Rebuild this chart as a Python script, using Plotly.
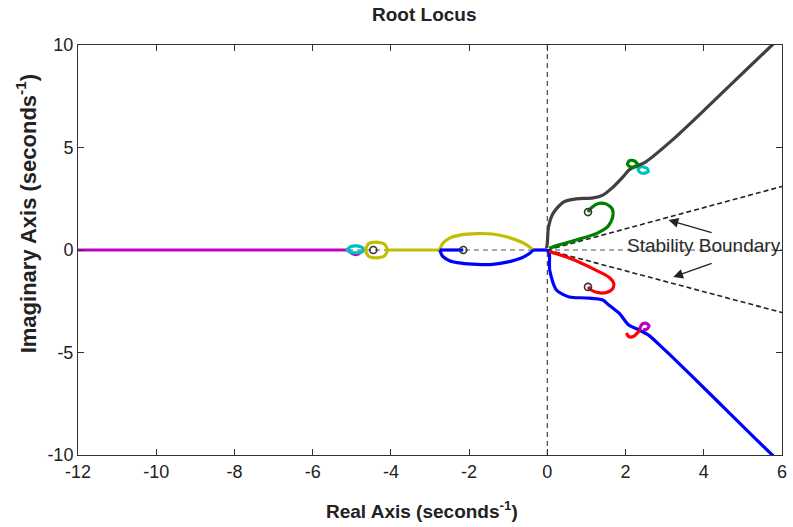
import plotly.graph_objects as go

# ---- root-locus branches: real / imaginary parts (seconds^-1); None splits segments ----
blue_re = [-2.15, -2.75, None,
           -2.75, -2.68, -2.5, -2.2, -1.8, -1.4, -1.0, -0.65, -0.45, -0.36, None,
           -0.36, 0.0, None,
           0.0, 0.05, 0.06, 0.23, 0.56, 0.99, 1.42, 1.57, 1.83, 2.08, 2.34, 2.59, 2.94, 3.27, 4.0, 5.75, 5.9]
blue_im = [0, 0, None,
           0, -0.3, -0.52, -0.64, -0.7, -0.7, -0.58, -0.38, -0.16, 0, None,
           0, 0, None,
           -0.02, -0.15, -0.98, -1.95, -2.29, -2.34, -2.44, -2.68, -3.07, -3.66, -3.9, -4.15, -4.76, -5.36, -6.72, -10.0, -10.25]

gray_re = [-0.02, 0.0, 0.03, 0.15, 0.41, 0.74, 1.17, 1.42, 1.68, 1.93, 2.1, 2.3, 2.51, 3.2, 4.0, 5.75, 5.9]
gray_im = [0.1, 0.34, 1.12, 1.8, 2.34, 2.49, 2.54, 2.68, 3.07, 3.56, 3.92, 4.1, 4.29, 5.37, 6.8, 10.0, 10.25]

yellow_re = [-4.65, -4.57, -4.37, -4.16, -4.09, -4.16, -4.37, -4.57, -4.65, None,
             -4.09, -2.75, None,
             -2.75, -2.68, -2.5, -2.2, -1.8, -1.4, -1.0, -0.65, -0.45, -0.36]
yellow_im = [0, 0.3, 0.38, 0.28, 0, -0.28, -0.38, -0.3, 0, None,
             0, 0, None,
             0, 0.3, 0.58, 0.74, 0.8, 0.78, 0.62, 0.38, 0.15, 0]

cyan_re = [-5.12, -5.02, -4.88, -4.72, -4.7, -4.82, -5.0, -5.12, None,
           2.32, 2.42, 2.55, 2.58, 2.47, 2.36, 2.32]
cyan_im = [0, 0.17, 0.2, 0.1, -0.03, -0.13, -0.12, 0, None,
           3.98, 4.06, 3.98, 3.82, 3.74, 3.8, 3.98]

magenta_re = [-12.0, -5.05, None,
              -5.08, -4.98, -4.85, -4.76, None,
              2.36, 2.42, 2.53, 2.6, 2.55, 2.45]
magenta_im = [0, 0, None,
              -0.02, -0.19, -0.21, -0.1, None,
              -3.85, -3.62, -3.57, -3.7, -3.85, -3.9]

green_re = [1.04, 1.12, 1.3, 1.5, 1.66, 1.67, 1.55, 1.25, 0.74, 0.3, 0.05, None,
            2.05, 2.1, 2.22, 2.3, 2.24, 2.12, 2.05]
green_im = [1.85, 2.05, 2.27, 2.25, 2.0, 1.6, 1.15, 0.8, 0.49, 0.25, 0.08, None,
            4.18, 4.36, 4.35, 4.2, 4.07, 4.06, 4.18]

red_re = [1.04, 1.12, 1.3, 1.5, 1.66, 1.7, 1.57, 1.24, 0.56, 0.05, None,
          2.02, 2.08, 2.2, 2.3, 2.38]
red_im = [-1.8, -1.95, -2.08, -2.08, -1.92, -1.65, -1.32, -0.98, -0.39, -0.08, None,
          -4.05, -4.22, -4.22, -4.05, -3.88]

# open-loop poles / zeros drawn as open circles
marker_re = [-2.15, 1.04, 1.04, -4.45]
marker_im = [0, 1.85, -1.8, 0]

# stability boundary rays from the origin
boundary_re = [0, 6]
boundary_upper_im = [0, 3.1]
boundary_lower_im = [0, -3.05]

# arrow heads and tails for the boundary label
arrow_head_re = [3.1, 3.22]
arrow_head_im = [1.46, -1.32]
arrow_tail_re = [4.24, 4.24]
arrow_tail_im = [0.83, -0.63]
label_re, label_im = 4.0, 0.24

x_ticks = [-12, -10, -8, -6, -4, -2, 0, 2, 4, 6]
x_tick_labels = ["-12", "-10", "-8", "-6", "-4", "-2", "0", "2", "4", "6"]
y_ticks = [-10, -5, 0, 5, 10]
y_tick_labels = ["-10", "-5", "0", "5", "10"]

FONT = "Liberation Sans, Arial, sans-serif"
TXT = "#222222"

fig = go.Figure()

# real and imaginary axes as dashed reference lines
fig.add_trace(go.Scatter(x=[-12, 6], y=[0, 0], mode="lines",
                         line=dict(color="#555555", width=1.2, dash="5px,4px"),
                         hoverinfo="skip"))
fig.add_trace(go.Scatter(x=[0, 0], y=[-10, 10], mode="lines",
                         line=dict(color="#444444", width=1.2, dash="5px,4px"),
                         hoverinfo="skip"))
for b_im in (boundary_upper_im, boundary_lower_im):
    fig.add_trace(go.Scatter(x=boundary_re, y=b_im, mode="lines",
                             line=dict(color="#222222", width=1.6, dash="5px,3px"),
                             hoverinfo="skip"))

branches = [
    (magenta_re, magenta_im, "#bf00bf"),
    (cyan_re, cyan_im, "#00bfbf"),
    (yellow_re, yellow_im, "#bfbf00"),
    (blue_re, blue_im, "#0000ff"),
    (gray_re, gray_im, "#404040"),
    (green_re, green_im, "#008000"),
    (red_re, red_im, "#ff0000"),
]
for bx, by, col in branches:
    fig.add_trace(go.Scatter(x=bx, y=by, mode="lines",
                             line=dict(color=col, width=3.2, shape="spline", smoothing=0.7),
                             connectgaps=False))

fig.add_trace(go.Scatter(x=marker_re, y=marker_im, mode="markers",
                         marker=dict(symbol="circle-open", size=7, color="#333333",
                                     line=dict(width=1.6))))

for hx, hy, tx, ty in zip(arrow_head_re, arrow_head_im, arrow_tail_re, arrow_tail_im):
    fig.add_annotation(x=hx, y=hy, ax=tx, ay=ty, xref="x", yref="y", axref="x", ayref="y",
                       showarrow=True, arrowhead=2, arrowsize=1.5, arrowwidth=1.3,
                       arrowcolor="#222222", text="")

fig.add_annotation(x=label_re, y=label_im, xref="x", yref="y", text="Stability Boundary",
                   showarrow=False, font=dict(family=FONT, size=19, color="#2a2a2a"))

# axis titles
fig.add_annotation(x=0.489, y=-0.134, xref="paper", yref="paper", xanchor="center",
                   yanchor="middle", showarrow=False,
                   text="<b>Real Axis (seconds<sup>-1</sup>)</b>",
                   font=dict(family=FONT, size=19, color=TXT))
fig.add_annotation(x=-0.0733, y=0.588, xref="paper", yref="paper", xanchor="center",
                   yanchor="middle", showarrow=False, textangle=-90,
                   text="<b>Imaginary Axis (seconds<sup>-1</sup>)</b>",
                   font=dict(family=FONT, size=22, color=TXT))

axis_common = dict(showline=True, linecolor="#333333", linewidth=1, mirror="ticks",
                   ticks="inside", ticklen=6, tickcolor="#333333", showgrid=False,
                   zeroline=False, tickfont=dict(family=FONT, size=18, color=TXT))

fig.update_layout(
    width=793, height=527,
    margin=dict(l=78, r=6, t=45, b=72),
    paper_bgcolor="white", plot_bgcolor="white",
    showlegend=False,
    title=dict(text="<b>Root Locus</b>", x=0.535, xanchor="center", y=0.973, yanchor="middle",
               yref="container", font=dict(family=FONT, size=19, color=TXT)),
    xaxis=dict(range=[-12, 6], tickvals=x_ticks, ticktext=x_tick_labels, **axis_common),
    yaxis=dict(range=[-10, 10], tickvals=y_ticks, ticktext=y_tick_labels, **axis_common),
)

fig.write_html("out.html")
